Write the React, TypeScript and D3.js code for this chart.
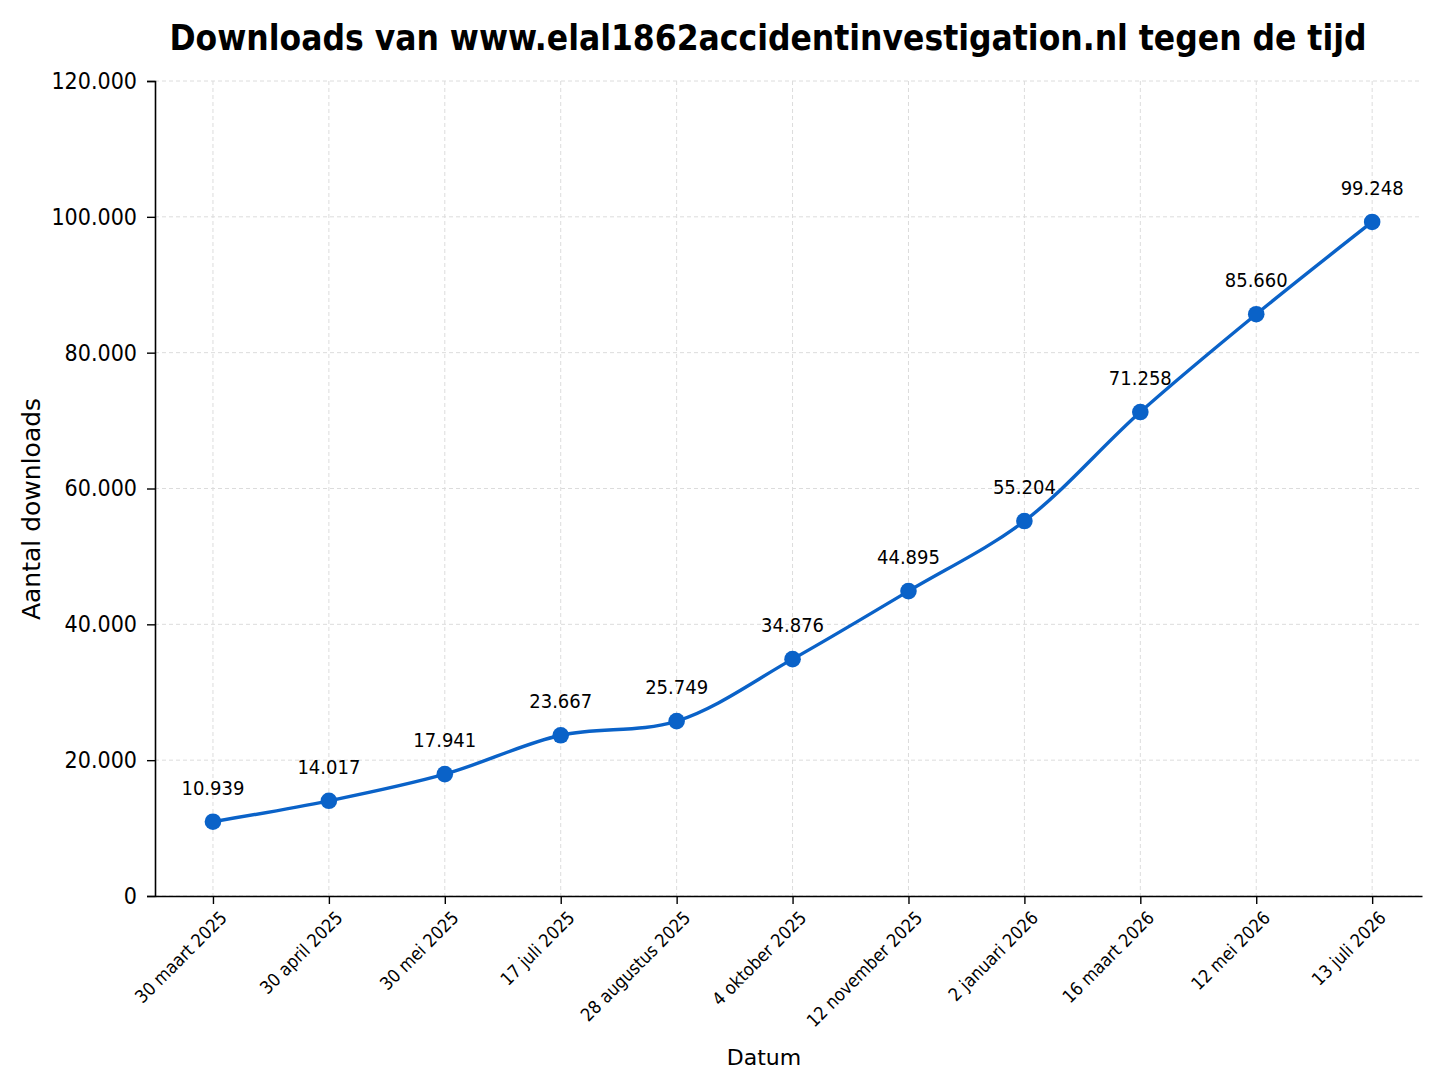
import { useRef, useEffect } from 'react';
import * as d3 from 'd3';

const dates = [
    '30 maart 2025', '30 april 2025', '30 mei 2025', '17 juli 2025',
    '28 augustus 2025', '4 oktober 2025', '12 november 2025', '2 januari 2026',
    '16 maart 2026', '12 mei 2026', '13 juli 2026',
];
const downloads = [10939, 14017, 17941, 23667, 25749, 34876, 44895, 55204, 71258, 85660, 99248];
const yTicks = [0, 20000, 40000, 60000, 80000, 100000, 120000];

const title = 'Downloads van www.elal1862accidentinvestigation.nl tegen de tijd';
const condensed = '"DejaVu Sans Condensed", "DejaVu Sans", sans-serif';
const regular = '"DejaVu Sans", sans-serif';
const blue = '#0a62c8';

const nl = d3.formatLocale({ decimal: ',', thousands: '.', grouping: [3], currency: ['€', ''] });
const fmt = nl.format(',d');

const App = () => {
    const ref = useRef<SVGSVGElement>(null);

    useEffect(() => {
        document.body.style.margin = '0';
        const svg = d3.select(ref.current);
        svg.selectAll('*').remove();

        const left = 155, right = 1422, top = 81, bottom = 896;

        const x = d3.scaleLinear()
            .domain([-0.5, dates.length - 0.57])
            .range([left, right]);
        const y = d3.scaleLinear()
            .domain([0, 120000])
            .range([bottom, top]);

        svg.append('rect')
            .attr('width', 1448).attr('height', 1086)
            .attr('fill', '#fff');

        // grid
        const grid = svg.append('g')
            .attr('stroke', '#dcdcdc')
            .attr('stroke-width', 1)
            .attr('stroke-dasharray', '4,3');
        grid.selectAll('.hg')
            .data(yTicks)
            .enter().append('line')
            .attr('x1', left).attr('x2', right)
            .attr('y1', d => y(d)).attr('y2', d => y(d));
        grid.selectAll('.vg')
            .data(dates)
            .enter().append('line')
            .attr('x1', (_, i) => x(i)).attr('x2', (_, i) => x(i))
            .attr('y1', top).attr('y2', bottom);

        // y axis
        const yAxis = svg.append('g')
            .attr('transform', `translate(${left},0)`)
            .call(d3.axisLeft(y).tickValues(yTicks).tickFormat(d => fmt(d as number)).tickSize(8).tickPadding(10));
        yAxis.select('.domain').attr('stroke', '#000').attr('stroke-width', 1.6);
        yAxis.selectAll('.tick line').attr('stroke', '#000').attr('stroke-width', 1.4);
        yAxis.selectAll('.tick text')
            .attr('fill', '#000')
            .style('font-family', condensed)
            .style('font-stretch', 'condensed')
            .style('font-size', '23px');

        // x axis
        const xAxis = svg.append('g')
            .attr('transform', `translate(0,${bottom})`)
            .call(d3.axisBottom(x).tickValues(d3.range(dates.length)).tickFormat(() => '').tickSize(8).tickSizeOuter(0));
        xAxis.select('.domain').attr('stroke', '#000').attr('stroke-width', 1.6);
        xAxis.selectAll('.tick line').attr('stroke', '#000').attr('stroke-width', 1.4);

        svg.append('g')
            .selectAll('text')
            .data(dates)
            .enter().append('text')
            .attr('transform', (_, i) => `translate(${x(i) + 15},${bottom + 23}) rotate(-45)`)
            .attr('text-anchor', 'end')
            .style('font-family', condensed)
            .style('font-stretch', 'condensed')
            .style('font-size', '18px')
            .text(d => d);

        // line
        const line = d3.line<number>()
            .x((_, i) => x(i))
            .y(d => y(d))
            .curve(d3.curveCatmullRom.alpha(0.5));

        svg.append('path')
            .datum(downloads)
            .attr('d', line)
            .attr('fill', 'none')
            .attr('stroke', blue)
            .attr('stroke-width', 3.4);

        svg.append('g')
            .selectAll('circle')
            .data(downloads)
            .enter().append('circle')
            .attr('cx', (_, i) => x(i))
            .attr('cy', d => y(d))
            .attr('r', 8.3)
            .attr('fill', blue);

        svg.append('g')
            .selectAll('text')
            .data(downloads)
            .enter().append('text')
            .attr('x', (_, i) => x(i))
            .attr('y', d => y(d) - 27)
            .attr('text-anchor', 'middle')
            .style('font-family', condensed)
            .style('font-stretch', 'condensed')
            .style('font-size', '20px')
            .text(d => fmt(d));

        // titles
        svg.append('text')
            .attr('x', 768).attr('y', 50)
            .attr('text-anchor', 'middle')
            .style('font-family', condensed)
            .style('font-stretch', 'condensed')
            .style('font-weight', 'bold')
            .style('font-size', '35px')
            .text(title);

        svg.append('text')
            .attr('x', 764).attr('y', 1065)
            .attr('text-anchor', 'middle')
            .style('font-family', regular)
            .style('font-size', '22px')
            .text('Datum');

        svg.append('text')
            .attr('transform', 'translate(40,509) rotate(-90)')
            .attr('text-anchor', 'middle')
            .style('font-family', regular)
            .style('font-size', '25px')
            .text('Aantal downloads');
    }, []);

    return <svg ref={ref} width={1448} height={1086} style={{ display: 'block' }}></svg>;
};

export default App;
